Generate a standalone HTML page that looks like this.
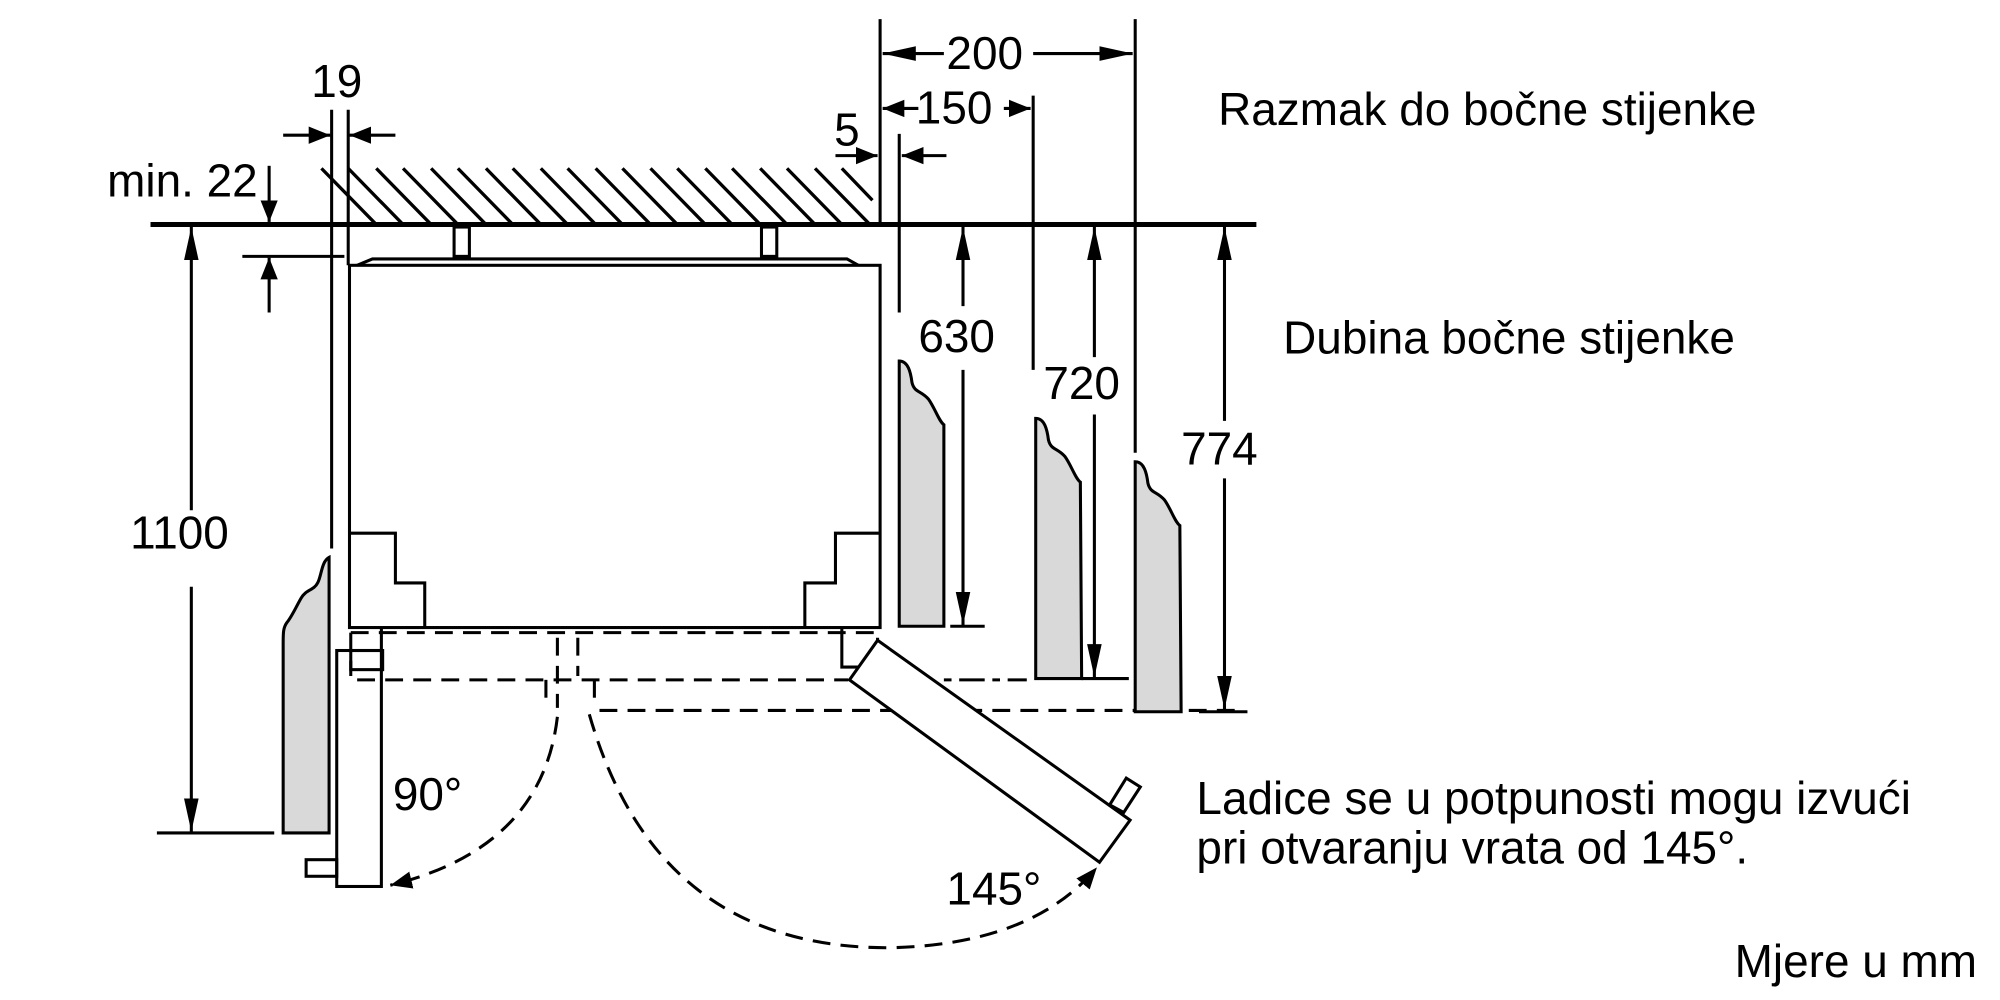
<!DOCTYPE html>
<html><head><meta charset="utf-8"><style>
html,body{margin:0;padding:0;background:#fff;}
svg{display:block;}
text{font-family:"Liberation Sans",Arial,sans-serif;fill:#000;}
</style></head><body>
<svg width="2000" height="1000" viewBox="0 0 1568 784" xmlns="http://www.w3.org/2000/svg">
<defs>
<marker id="a" viewBox="0 0 10 10" refX="10" refY="5" markerWidth="17" markerHeight="17" markerUnits="userSpaceOnUse" orient="auto-start-reverse"><path d="M0,1 L10,5 L0,9 z" fill="#000"/></marker>
<marker id="b" viewBox="0 0 10 10" refX="10" refY="5" markerWidth="26" markerHeight="26" markerUnits="userSpaceOnUse" orient="auto-start-reverse"><path d="M0,2.8 L10,5 L0,7.2 z" fill="#000"/></marker>
</defs>
<g stroke="#000" fill="none" stroke-width="2.4">
<g stroke-width="2.6">
<line x1="252" y1="132" x2="294" y2="175"/><line x1="273" y1="132" x2="315" y2="175"/><line x1="295" y1="132" x2="337" y2="175"/><line x1="316" y1="132" x2="358" y2="175"/><line x1="338" y1="132" x2="380" y2="175"/><line x1="359" y1="132" x2="401" y2="175"/><line x1="381" y1="132" x2="423" y2="175"/><line x1="402" y1="132" x2="444" y2="175"/><line x1="424" y1="132" x2="466" y2="175"/><line x1="445" y1="132" x2="487" y2="175"/><line x1="467" y1="132" x2="509" y2="175"/><line x1="488" y1="132" x2="530" y2="175"/><line x1="510" y1="132" x2="552" y2="175"/><line x1="531" y1="132" x2="573" y2="175"/><line x1="553" y1="132" x2="595" y2="175"/><line x1="574" y1="132" x2="616" y2="175"/><line x1="596" y1="132" x2="638" y2="175"/><line x1="617" y1="132" x2="659" y2="175"/><line x1="639" y1="132" x2="681" y2="175"/><line x1="660" y1="132" x2="684" y2="157"/>
</g>
<line x1="118" y1="176" x2="985" y2="176" stroke-width="4"/>
<rect x="356" y="178" width="12" height="23"/><rect x="597" y="178" width="12" height="23"/>
<polyline points="280,208 292,203 664,203 673,208"/>
<rect x="274" y="208" width="416" height="284"/>
<polyline points="275,418 310,418 310,457 333,457 333,492"/>
<polyline points="689,418 655,418 655,457 631,457 631,492"/>
<line x1="260" y1="86" x2="260" y2="430"/><line x1="273" y1="86" x2="273" y2="208"/>
<line x1="222" y1="106" x2="259" y2="106" marker-end="url(#a)"/>
<line x1="310" y1="106" x2="274" y2="106" marker-end="url(#a)"/>
<line x1="211" y1="130" x2="211" y2="174" marker-end="url(#a)"/>
<line x1="190" y1="201" x2="270" y2="201"/>
<line x1="211" y1="245" x2="211" y2="202" marker-end="url(#a)"/>
<line x1="150" y1="400" x2="150" y2="178" marker-end="url(#b)"/>
<line x1="150" y1="460" x2="150" y2="652" marker-end="url(#b)"/>
<line x1="123" y1="653" x2="215" y2="653"/>
<path d="M258,437 C252,440 252,452 249,457 C246,463 240,462 236,469 C232,476 229,483 225,488 C222,492 222,496 222,505 L222,653 L258,653 Z" fill="#d9d9d9"/>
<rect x="264" y="510" width="35" height="185"/>
<rect x="240" y="674" width="24" height="13"/>
<rect x="275" y="510" width="25" height="15"/>
<line x1="299" y1="492" x2="299" y2="510"/>
<g stroke-dasharray="14,8">
<line x1="275" y1="496" x2="690" y2="496"/>
<line x1="280" y1="533" x2="665" y2="533"/>
<line x1="470" y1="557" x2="975" y2="557"/>
<line x1="275" y1="496" x2="275" y2="530"/>
<line x1="437" y1="500" x2="437" y2="555"/>
<line x1="453" y1="500" x2="453" y2="530"/>
<line x1="688" y1="500" x2="688" y2="520"/>
<line x1="428" y1="533" x2="428" y2="555"/>
<line x1="466" y1="533" x2="466" y2="555"/>
<path d="M437,562 Q425,665 306,694" marker-end="url(#a)"/>
<path d="M462,560 Q515,745 700,743 Q810,740 860,680" marker-end="url(#a)"/>
</g>
<line x1="740" y1="533" x2="805" y2="533" stroke-dasharray="6,6,20,6"/>
<polyline points="660,492 660,523 684,523"/>
<polygon points="688,502 666,533 862,676 886,643" fill="#fff"/>
<polygon points="870,631 883,610 894,617 881,637" fill="#fff"/>
<line x1="690" y1="15" x2="690" y2="175"/>
<line x1="890" y1="15" x2="890" y2="355"/>
<line x1="810" y1="75" x2="810" y2="290"/>
<line x1="705" y1="105" x2="705" y2="245"/>
<line x1="740" y1="42" x2="692" y2="42" marker-end="url(#b)"/>
<line x1="810" y1="42" x2="888" y2="42" marker-end="url(#b)"/>
<line x1="720" y1="85" x2="692" y2="85" marker-end="url(#a)"/>
<line x1="787" y1="85" x2="808" y2="85" marker-end="url(#a)"/>
<line x1="655" y1="122" x2="688" y2="122" marker-end="url(#a)"/>
<line x1="742" y1="122" x2="707" y2="122" marker-end="url(#a)"/>
<line x1="755" y1="240" x2="755" y2="178" marker-end="url(#b)"/>
<line x1="755" y1="290" x2="755" y2="490" marker-end="url(#b)"/>
<line x1="745" y1="491" x2="772" y2="491"/>
<line x1="858" y1="280" x2="858" y2="178" marker-end="url(#b)"/>
<line x1="858" y1="325" x2="858" y2="531" marker-end="url(#b)"/>
<line x1="848" y1="532" x2="885" y2="532"/>
<line x1="960" y1="330" x2="960" y2="178" marker-end="url(#b)"/>
<line x1="960" y1="375" x2="960" y2="556" marker-end="url(#b)"/>
<line x1="940" y1="558" x2="978" y2="558"/>
<path d="M705,283 C712,283 714,292 715,300 C717,308 722,306 728,313 C733,320 736,330 740,333 L740,491 L705,491 Z" fill="#d9d9d9"/>
<path d="M812,328 C819,328 821,337 822,345 C824,353 829,351 835,358 C840,365 843,375 847,378 L848,532 L812,532 Z" fill="#d9d9d9"/>
<path d="M890,362 C897,362 899,371 900,379 C902,387 907,385 913,392 C918,399 921,409 925,412 L926,558 L890,558 Z" fill="#d9d9d9"/>
</g>
<g font-size="36">
<text x="244" y="76">19</text>
<text x="84" y="154">min. 22</text>
<text x="102" y="430">1100</text>
<text x="742" y="54">200</text>
<text x="718" y="97">150</text>
<text x="654" y="114">5</text>
<text x="720" y="276">630</text>
<text x="818" y="313">720</text>
<text x="926" y="364">774</text>
<text x="955" y="98">Razmak do bočne stijenke</text>
<text x="1006" y="277">Dubina bočne stijenke</text>
<text x="938" y="638">Ladice se u potpunosti mogu izvući</text>
<text x="938" y="677">pri otvaranju vrata od 145°.</text>
<text x="308" y="635">90°</text>
<text x="742" y="709">145°</text>
<text x="1360" y="766">Mjere u mm</text>
</g>
</svg>
</body></html>
